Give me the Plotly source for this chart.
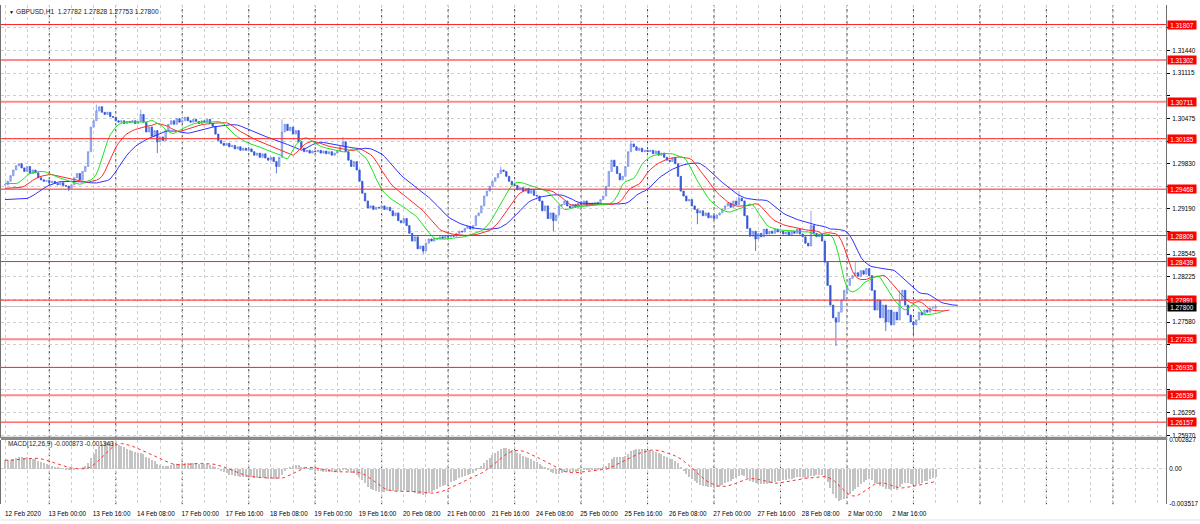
import numpy as np
import pandas as pd
import plotly.graph_objects as go

# ---------------- data (GBPUSD H1 closes) ----------------
feb12 = [1.2953,1.2958,1.2966,1.2974,1.2980,1.2983,1.2977,1.2972,1.2979,1.2969,1.2974,1.2970,1.2963,1.2960,1.2958,1.2959]
feb13 = [1.2956,1.2958,1.2955,1.2953,1.2956,1.2952,1.2951,1.2948,1.2953,1.2963,1.2969,1.2960,1.2972,1.2979,1.3000,1.3035,1.3044,1.3058,1.3064,1.3056,1.3053,1.3056,1.3050,1.3049]
feb14 = [1.3044,1.3042,1.3044,1.3040,1.3043,1.3042,1.3044,1.3040,1.3043,1.3053,1.3042,1.3028,1.3035,1.3022,1.3030,1.3014,1.3021,1.3016,1.3030,1.3039,1.3044,1.3039,1.3047,1.3042]
feb17 = [1.3044,1.3049,1.3044,1.3042,1.3046,1.3043,1.3040,1.3044,1.3042,1.3046,1.3040,1.3036,1.3025,1.3016,1.3012,1.3009,1.3012,1.3007,1.3009,1.3004,1.3007,1.3002,1.3005,1.3002]
feb18 = [1.3004,1.3000,1.2995,1.2998,1.2992,1.2997,1.2991,1.2988,1.2992,1.2986,1.2979,1.2992,1.3028,1.3039,1.3030,1.3035,1.3025,1.3030,1.3014,1.3005,1.3000,1.3002,1.2998,1.3001]
feb19 = [1.3000,1.3002,1.2998,1.3001,1.2997,1.3000,1.2995,1.2998,1.3001,1.3007,1.3014,1.3000,1.2988,1.2979,1.2986,1.2974,1.2958,1.2941,1.2930,1.2920,1.2923,1.2918,1.2921,1.2920]
feb20 = [1.2923,1.2918,1.2921,1.2916,1.2909,1.2913,1.2902,1.2899,1.2905,1.2895,1.2884,1.2873,1.2879,1.2862,1.2866,1.2859,1.2870,1.2876,1.2873,1.2877,1.2876,1.2879,1.2877,1.2880]
feb21 = [1.2879,1.2881,1.2880,1.2884,1.2887,1.2886,1.2891,1.2894,1.2890,1.2895,1.2909,1.2913,1.2923,1.2937,1.2944,1.2951,1.2958,1.2963,1.2969,1.2974,1.2972,1.2965,1.2958,1.2953]
feb24 = [1.2952,1.2946,1.2949,1.2944,1.2948,1.2941,1.2945,1.2938,1.2937,1.2930,1.2916,1.2923,1.2905,1.2913,1.2902,1.2910,1.2923,1.2925,1.2930,1.2923,1.2920,1.2925,1.2921,1.2927]
feb25 = [1.2925,1.2930,1.2923,1.2927,1.2924,1.2928,1.2925,1.2932,1.2937,1.2951,1.2972,1.2988,1.2979,1.2969,1.2960,1.2965,1.2979,1.3000,1.3011,1.3007,1.3002,1.3005,1.3000,1.3002]
feb26 = [1.3000,1.3002,1.2997,1.3001,1.2995,1.2998,1.2992,1.2988,1.2986,1.2991,1.2983,1.2965,1.2944,1.2937,1.2930,1.2932,1.2923,1.2918,1.2913,1.2916,1.2909,1.2913,1.2906,1.2909]
feb27 = [1.2905,1.2910,1.2913,1.2918,1.2923,1.2927,1.2921,1.2930,1.2925,1.2934,1.2930,1.2909,1.2891,1.2880,1.2887,1.2876,1.2884,1.2879,1.2890,1.2883,1.2887,1.2884,1.2890,1.2886]
feb28 = [1.2887,1.2883,1.2886,1.2881,1.2887,1.2884,1.2890,1.2883,1.2879,1.2870,1.2866,1.2895,1.2884,1.2879,1.2883,1.2873,1.2843,1.2810,1.2782,1.2764,1.2758,1.2772,1.2789,1.2803]
mar02 = [1.2810,1.2820,1.2824,1.2828,1.2823,1.2831,1.2826,1.2834,1.2824,1.2803,1.2775,1.2789,1.2764,1.2782,1.2758,1.2775,1.2754,1.2772,1.2761,1.2789,1.2803,1.2782,1.2768,1.2758]
mar03 = [1.2754,1.2761,1.2772,1.2768,1.2775,1.2772,1.2778,1.27782,1.27800]

# notable wick extremes (bar index -> price)
high_wicks = {33: 1.3067, 49: 1.3060, 100: 1.3046, 122: 1.3021, 179: 1.2979, 226: 1.3016,
              265: 1.2944, 291: 1.2916, 307: 1.2843, 323: 1.2803, 336: 1.27828}
low_wicks = {23: 1.2944, 55: 1.2998, 98: 1.2969, 151: 1.2855, 198: 1.2887, 250: 1.2897,
             271: 1.2859, 300: 1.2724, 318: 1.2745, 328: 1.2738, 336: 1.27753}

x_labels = ["12 Feb 2020", "13 Feb 00:00", "13 Feb 16:00", "14 Feb 08:00", "17 Feb 00:00",
            "17 Feb 16:00", "18 Feb 08:00", "19 Feb 00:00", "19 Feb 16:00", "20 Feb 08:00",
            "21 Feb 00:00", "21 Feb 16:00", "24 Feb 08:00", "25 Feb 00:00", "25 Feb 16:00",
            "26 Feb 08:00", "27 Feb 00:00", "27 Feb 16:00", "28 Feb 08:00", "2 Mar 00:00",
            "2 Mar 16:00"]

price_ticks = [1.31760, 1.31440, 1.31115, 1.30795, 1.30475, 1.30150, 1.29830, 1.29510, 1.29190,
               1.28865, 1.28545, 1.28225, 1.27900, 1.27580, 1.27260, 1.26935, 1.26615, 1.26295, 1.25970]
levels = [1.31807, 1.31302, 1.30711, 1.30185, 1.29468, 1.28809, 1.28439, 1.27891,
          1.27336, 1.26935, 1.26539, 1.26157]
light_levels = [1.31302, 1.30711, 1.27336, 1.26539]
last_price = 1.27800

# indicator starting states read at the left edge of the chart
jaw_start, teeth_start, lips_start = 1.2932, 1.2948, 1.2955
macd_start = 0.0009
macd_ticks = [0.002827, 0.0, -0.003517]
macd_ticktext = ["0.002827", "0.00", "-0.003517"]

# ---------------- build series ----------------
closes = np.array(feb12 + feb13 + feb14 + feb17 + feb18 + feb19 + feb20 + feb21 + feb24 +
                  feb25 + feb26 + feb27 + feb28 + mar02 + mar03)
n = len(closes)
idx = np.arange(n)
opens = np.concatenate([[closes[0]], closes[:-1]])
opens[-1] = 1.27782
highs = np.maximum(opens, closes)
lows = np.minimum(opens, closes)
for k, v in high_wicks.items():
    highs[k] = max(highs[k], v)
for k, v in low_wicks.items():
    lows[k] = min(lows[k], v)
med = (highs + lows) / 2


def smma(vals, period, seed):
    out, prev = [], seed
    for v in vals:
        prev = (prev * (period - 1) + v) / period
        out.append(prev)
    return np.array(out)


jaw = smma(med, 13, jaw_start)
teeth = smma(med, 8, teeth_start)
lips = smma(med, 5, lips_start)


def ema(vals, period, seed):
    a = 2 / (period + 1)
    out, prev = [], seed
    for v in vals:
        prev = prev + a * (v - prev)
        out.append(prev)
    return np.array(out)


e12 = ema(closes, 12, closes[0])
e26 = ema(closes, 26, closes[0] - macd_start)
macd = e12 - e26
signal = pd.Series(macd).rolling(9, min_periods=1).mean().values

# ---------------- geometry ----------------
W, H = 1200, 524
px_per_bar = 2.772
x0_px = 4.0
right_px = 1166
x_range = [(0 - x0_px) / px_per_bar, (right_px - x0_px) / px_per_bar]
main_dom = [1 - 440 / H, 1 - 1 / H]
macd_dom = [1 - 507 / H, 1 - 442 / H]
y_range = [1.25930, 1.32085]
px_per_price = 438 / (y_range[1] - y_range[0])

FONT = "Liberation Sans, Arial, sans-serif"
fs = 6.4
GRID = "#cfcfcf"
DASH = "3px,3px"

# hide tick labels that sit under a level tag (as in the terminal)
price_ticktext = []
for t in price_ticks:
    covered = any(abs(t - lv) * px_per_price < 7 for lv in levels + [last_price])
    price_ticktext.append("" if covered else f"{t:.5f}")

fig = go.Figure()

fig.add_trace(go.Candlestick(
    x=idx, open=opens, high=highs, low=lows, close=closes,
    increasing=dict(line=dict(color="#7590e8", width=0.8), fillcolor="#b8c6f4"),
    decreasing=dict(line=dict(color="#3558d8", width=0.8), fillcolor="#3558d8"),
    whiskerwidth=0, xaxis="x", yaxis="y", showlegend=False, hoverinfo="skip"))

fig.add_trace(go.Scatter(x=np.concatenate([[0], idx + 8]), y=np.concatenate([[jaw_start], jaw]),
                         mode="lines", line=dict(color="#3030ff", width=1), xaxis="x", yaxis="y",
                         showlegend=False, hoverinfo="skip"))
fig.add_trace(go.Scatter(x=np.concatenate([[0], idx + 5]), y=np.concatenate([[teeth_start], teeth]),
                         mode="lines", line=dict(color="#ff2a2a", width=1), xaxis="x", yaxis="y",
                         showlegend=False, hoverinfo="skip"))
fig.add_trace(go.Scatter(x=np.concatenate([[0], idx + 3]), y=np.concatenate([[lips_start], lips]),
                         mode="lines", line=dict(color="#22e022", width=1), xaxis="x", yaxis="y",
                         showlegend=False, hoverinfo="skip"))

fig.add_trace(go.Bar(x=idx, y=macd, width=0.38, marker=dict(color="#c4c4c4", line=dict(width=0)),
                     xaxis="x2", yaxis="y2", showlegend=False, hoverinfo="skip"))
fig.add_trace(go.Scatter(x=idx, y=signal, mode="lines",
                         line=dict(color="#ff3030", width=1, dash="dot"),
                         xaxis="x2", yaxis="y2", showlegend=False, hoverinfo="skip"))

grid8 = list(range(0, 424, 8))
label_pos = [16 * k for k in range(len(x_labels))]

common_x = dict(range=x_range, domain=[0, right_px / W], showgrid=True, gridcolor=GRID,
                griddash=DASH, gridwidth=1, zeroline=False, showline=False, fixedrange=True,
                minor=dict(tickvals=grid8, showgrid=True, gridcolor=GRID, griddash=DASH,
                           gridwidth=1, ticks=""))
fig.update_layout(
    width=W, height=H, margin=dict(l=0, r=0, t=0, b=0),
    paper_bgcolor="white", plot_bgcolor="white", bargap=0,
    font=dict(family=FONT, size=fs, color="#000000"),
    xaxis=dict(anchor="y", tickvals=label_pos, showticklabels=False,
               rangeslider=dict(visible=False), ticks="", **common_x),
    xaxis2=dict(anchor="y2", matches="x", tickvals=label_pos, ticktext=x_labels, ticks="",
                tickfont=dict(size=fs, family=FONT), ticklabelshift=18, ticklabelstandoff=4,
                **common_x),
    yaxis=dict(domain=main_dom, range=y_range, side="right", tickvals=price_ticks,
               ticktext=price_ticktext, ticks="outside", ticklen=3, tickcolor="#000",
               ticklabelstandoff=1,
               showgrid=True, gridcolor=GRID, griddash=DASH, zeroline=False,
               showline=True, linecolor="#707070", linewidth=1, mirror=True,
               tickfont=dict(size=fs, family=FONT), fixedrange=True),
    yaxis2=dict(domain=macd_dom, range=[-0.003517, 0.002827], side="right",
                tickvals=macd_ticks, ticktext=macd_ticktext, ticks="", showgrid=True,
                ticklabelstandoff=1,
                gridcolor=GRID, griddash=DASH, zeroline=False,
                showline=True, linecolor="#707070", linewidth=1, mirror=True,
                tickfont=dict(size=fs, family=FONT), fixedrange=True),
)

shapes = []
# day separators
for d in range(16, 424, 24):
    for ydom in (main_dom, macd_dom):
        shapes.append(dict(type="line", xref="x", yref="paper", x0=d, x1=d, y0=ydom[0], y1=ydom[1],
                           line=dict(color="#3a3a3a", width=1, dash=DASH), layer="below"))
# horizontal levels
for lv in levels:
    light = lv in light_levels
    shapes.append(dict(type="line", xref="x", yref="y", x0=x_range[0], x1=x_range[1], y0=lv, y1=lv,
                       line=dict(color="#ff8a8a" if light else "#ff2020", width=2 if light else 1)))
# last price line
shapes.append(dict(type="line", xref="x", yref="y", x0=x_range[0], x1=x_range[1],
                   y0=last_price, y1=last_price, line=dict(color="#c0c0c0", width=1), layer="below"))
# panel separator
shapes.append(dict(type="rect", xref="paper", yref="paper", x0=0, x1=right_px / W + 0.001,
                   y0=1 - 442 / H, y1=1 - 438.5 / H, fillcolor="#8a8a8a", line=dict(width=0)))
# bottom strip
shapes.append(dict(type="rect", xref="paper", yref="paper", x0=0, x1=1, y0=0, y1=2 / H,
                   fillcolor="#f0f0f0", line=dict(width=0)))
fig.update_layout(shapes=shapes)

ann = []
for lv in levels:
    ann.append(dict(xref="paper", yref="y", x=(right_px + 1) / W, y=lv, xanchor="left",
                    yanchor="middle", text=f"{lv:.5f}", showarrow=False, bgcolor="#ff0000",
                    font=dict(color="white", size=fs, family=FONT), width=28, height=8, borderpad=0))
ann.append(dict(xref="paper", yref="y", x=(right_px + 1) / W, y=last_price, xanchor="left",
                yanchor="middle", text=f"{last_price:.5f}", showarrow=False, bgcolor="#000000",
                font=dict(color="white", size=fs, family=FONT), width=28, height=8, borderpad=0))
ann.append(dict(xref="paper", yref="paper", x=6 / W, y=1 - 8 / H, xanchor="left", yanchor="middle",
                text="▼", showarrow=False, font=dict(size=5, color="#000")))
ann.append(dict(xref="paper", yref="paper", x=13 / W, y=1 - 8 / H, xanchor="left", yanchor="middle",
                text="GBPUSD,H1&nbsp;&nbsp;1.27782 1.27828 1.27753 1.27800", showarrow=False,
                font=dict(size=6.6, color="#202020", family=FONT)))
ann.append(dict(xref="paper", yref="paper", x=5 / W, y=1 - 446 / H, xanchor="left", yanchor="middle",
                text="MACD(12,26,9) -0.000873 -0.001343", showarrow=False,
                font=dict(size=6.4, color="#202020", family=FONT)))
fig.update_layout(annotations=ann)

fig.write_html("out.html", config={"displayModeBar": False},
               post_script="document.body.style.margin='0';document.body.style.padding='0';"
                           "document.body.style.overflow='hidden';")
